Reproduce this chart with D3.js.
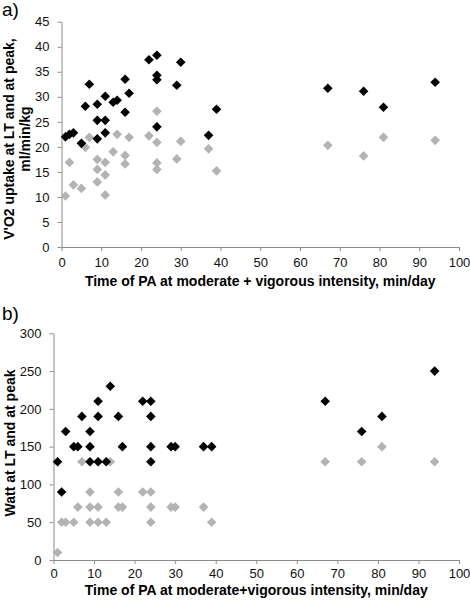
<!DOCTYPE html>
<html><head><meta charset="utf-8">
<script src="https://cdn.jsdelivr.net/npm/d3@7"></script>
<style>
html,body{margin:0;padding:0;background:#fff;}
svg{display:block;}
text{font-family:"Liberation Sans",Arial,Helvetica,sans-serif;}
</style></head>
<body>
<svg id="c" width="470" height="605"></svg>
<script>
// ---- Data ----
// Panel a) VO2 uptake (ml/min/kg) vs time of PA (min/day)
const aPeakX = [1,2,3,5,6,7,9,9,9,11,11,11,13,14,16,16,17,22,24,24,24,24,29,30,37,39,67,76,81,94];
const aPeakY = [22.0,22.5,22.8,20.7,28.1,32.5,28.5,25.3,21.6,30.1,25.3,22.8,28.9,29.3,33.5,26.9,30.7,37.4,38.3,34.3,33.4,24.0,32.3,36.9,22.3,27.5,31.7,31.1,27.9,32.9];
const aLtX = [1,2,3,5,6,7,9,9,9,11,11,11,13,14,16,16,17,22,24,24,24,24,29,30,37,39,67,76,81,94];
const aLtY = [10.2,16.9,12.4,11.7,19.9,21.9,17.5,15.5,13.0,16.9,14.4,10.4,19.0,22.5,18.3,16.6,21.9,22.2,27.1,20.9,16.8,15.5,17.6,21.1,19.6,15.2,20.3,18.2,21.9,21.3];
// Panel b) Watt vs time of PA
const bPeakX = [1,2,3,5,6,7,9,9,9,11,11,11,13,14,16,17,22,24,24,24,24,29,30,37,39,67,76,81,94];
const bPeakY = [130,90,170,150,150,190,170,150,130,210,190,130,130,230,190,150,210,210,190,150,130,150,150,150,150,210,170,190,250];
const bLtX = [1,2,3,5,6,7,9,9,9,11,11,13,14,16,16,17,22,24,24,24,29,30,37,39,67,76,81,94];
const bLtY = [10,50,50,50,70,130,90,70,50,70,50,50,130,90,70,70,90,90,70,50,70,70,70,50,130,130,150,130];

const xTicks = [0,10,20,30,40,50,60,70,80,90,100];
const aYTicks = [0,5,10,15,20,25,30,35,40,45];
const bYTicks = [0,50,100,150,200,250,300];

const labelA = "a)";
const labelB = "b)";
const xTitleA = "Time of PA at moderate + vigorous intensity, min/day";
const xTitleB = "Time of PA at moderate+vigorous intensity, min/day";
const yTitleA = ["V'O2 uptake at LT and at peak,", "ml/min/kg"];
const yTitleB = ["Watt at LT and at peak"];

// ---- Drawing ----
const svg = d3.select("#c");
const axisCol = "#8c8c8c";
const peakCol = "#000000";
const ltCol = "#b3b3b3";
const half = 4.8;
const diamond = d3.symbol().type(d3.symbolSquare).size((half*Math.SQRT2)**2);

function panel(cfg){
  const x = d3.scaleLinear().domain([0,100]).range([cfg.left, cfg.right]);
  const y = d3.scaleLinear().domain([0, cfg.yMax]).range([cfg.bottom, cfg.top]);
  const g = svg.append("g");

  const xa = g.append("g").attr("transform",`translate(0,${cfg.bottom})`)
    .call(d3.axisBottom(x).tickValues(xTicks).tickSize(4).tickSizeOuter(0).tickPadding(cfg.xPad));
  const ya = g.append("g").attr("transform",`translate(${cfg.left},0)`)
    .call(d3.axisLeft(y).tickValues(cfg.yTicks).tickSize(4).tickSizeOuter(0).tickPadding(8));
  [xa,ya].forEach(a=>{
    a.selectAll("path,line").attr("stroke",axisCol).attr("stroke-width",1);
    a.selectAll("text").attr("font-size",13).attr("fill","#111")
      .attr("font-family",'"Liberation Sans",Arial,sans-serif');
  });

  const pts = (xs,ys,col)=> g.append("g").selectAll("path").data(xs.map((v,i)=>[v,ys[i]])).join("path")
    .attr("d",diamond).attr("fill",col)
    .attr("transform",d=>`translate(${x(d[0])},${y(d[1])}) rotate(45)`);
  pts(cfg.ltX,cfg.ltY,ltCol);
  pts(cfg.peakX,cfg.peakY,peakCol);

  g.append("text").attr("x",(cfg.left+cfg.right)/2).attr("y",cfg.bottom+cfg.xTitleOff)
    .attr("text-anchor","middle").attr("font-weight","bold").attr("font-size",14)
    .text(cfg.xTitle);

  const yt = g.append("text").attr("transform",`translate(${cfg.yTitleX},${cfg.yTitleCY}) rotate(-90)`)
    .attr("text-anchor","middle").attr("font-weight","bold").attr("font-size",14);
  const n = cfg.yTitle.length;
  cfg.yTitle.forEach((t,i)=>{
    yt.append("tspan").attr("x",0).attr("y",(i-(n-1)/2)*16).text(t);
  });

  svg.append("text").attr("x",2).attr("y",cfg.labelY)
    .attr("font-family",'"Liberation Serif","Times New Roman",serif').attr("font-size",19)
    .text(cfg.label);
}

panel({left:61.5,right:459,top:21.7,bottom:247,yMax:45,yTicks:aYTicks,
  peakX:aPeakX,peakY:aPeakY,ltX:aLtX,ltY:aLtY,xTitle:xTitleA,yTitle:yTitleA,
  xPad:7,xTitleOff:39,
  yTitleX:22,yTitleCY:139,label:labelA,labelY:16});
panel({left:53.5,right:459,top:333.3,bottom:560,yMax:300,yTicks:bYTicks,
  peakX:bPeakX,peakY:bPeakY,ltX:bLtX,ltY:bLtY,xTitle:xTitleB,yTitle:yTitleB,
  xPad:5,xTitleOff:35,
  yTitleX:15,yTitleCY:443,label:labelB,labelY:320});
</script>
</body></html>
